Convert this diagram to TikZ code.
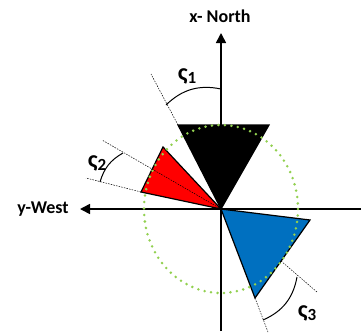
\documentclass[tikz,border=0pt]{standalone}
\usepackage{fontspec}
\setmainfont{Carlito}
\usetikzlibrary{arrows.meta}
\definecolor{wblue}{RGB}{0,112,192}
\definecolor{wgreen}{RGB}{146,208,80}
\tikzset{
  axis/.style={line width=1.6pt,-{Triangle[length=10pt,width=10pt]}},
  wedge/.style={draw=black,line width=1.2pt,line join=miter},
  guide/.style={line width=0.5pt,dash pattern=on 1.5pt off 1.2pt},
  anglearc/.style={line width=1pt},
  lbl/.style={font=\fontsize{18}{20}\selectfont\bfseries,inner sep=0pt},
  dotcirc/.style={draw=wgreen,line width=2.8pt,line cap=round,dash pattern=on 0pt off 6.5pt}
}
\newcommand{\sig}[1]{{\fontsize{24}{26}\selectfont\bfseries ς}\raisebox{-3pt}{\fontsize{17}{18}\selectfont\bfseries #1}}
\begin{document}
\begin{tikzpicture}[x=1pt,y=-1pt]
\useasboundingbox (0,0) rectangle (361,335);
\coordinate (O) at (221,209);
% wedges
\coordinate (b1) at (178,125);
\coordinate (b2) at (269,125);
\coordinate (r1) at (163,147);
\coordinate (r2) at (141,192);
\coordinate (u1) at (310,220);
\coordinate (u2) at (255,298);
\filldraw[wedge,fill=black] (O) -- (b1) -- (b2) -- cycle;
\filldraw[wedge,fill=red] (O) -- (r1) -- (r2) -- cycle;
\filldraw[wedge,fill=wblue] (O) -- (u1) -- (u2) -- cycle;
% axes
\coordinate (S) at (221,331);
\coordinate (N) at (221,33);
\coordinate (E) at (361,209);
\coordinate (W) at (80,209);
\draw[axis] (S) -- (N);
\draw[axis] (E) -- (W);
% dotted circle
\draw[dotcirc] (O) ellipse[x radius=77, y radius=84];
% guide lines
\coordinate (g1) at (151,74);
\coordinate (g2) at (102,140);
\coordinate (g3) at (86,178);
\coordinate (g4a) at (281,261);
\coordinate (g4) at (317,292);
\coordinate (g5) at (268,332);
\draw[guide] (b1) -- (g1);
\draw[guide] (O) -- (g2);
\draw[guide] (r2) -- (g3);
\draw[guide] (g4a) -- (g4);
\draw[guide] (u2) -- (g5);
% angle arcs
\coordinate (a1s) at (221,89);
\coordinate (a1e) at (166,105);
\coordinate (a2s) at (123,153);
\coordinate (a2e) at (100,182);
\coordinate (a3s) at (297,277);
\coordinate (a3e) at (263,320);
\draw[anglearc] (a1s) to[bend right=28] (a1e);
\draw[anglearc] (a2s) to[bend right=22] (a2e);
\draw[anglearc] (a3s) to[bend left=28] (a3e);
% labels
\node[lbl] (tN) at (220,16) {x- North};
\node[lbl] (tW) at (43,209) {y-West};
\node[lbl] (s1) at (187,76) {\sig{1}};
\node[lbl] (s2) at (97,163) {\sig{2}};
\node[lbl] (s3) at (307,313) {\sig{3}};
\end{tikzpicture}
\end{document}
